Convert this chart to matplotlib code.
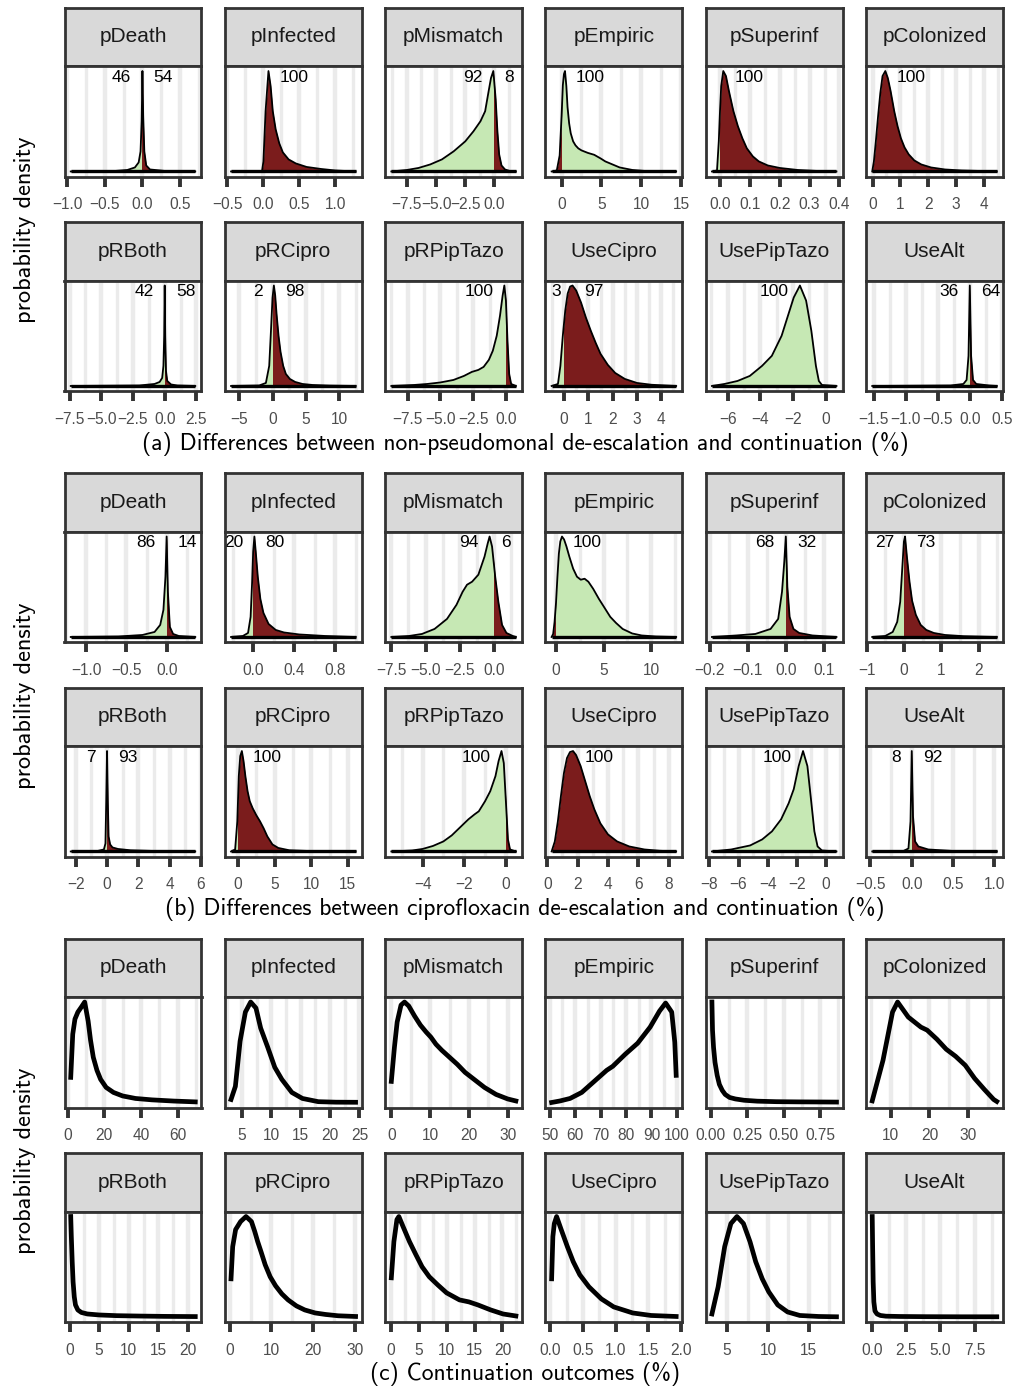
import matplotlib
matplotlib.use("Agg")
import matplotlib.pyplot as plt
from matplotlib.patches import Rectangle
import numpy as np

plt.rcParams['font.family'] = ['Liberation Sans', 'DejaVu Sans']

W, H = 1026, 1389

panel_names = ["pDeath", "pInfected", "pMismatch", "pEmpiric", "pSuperinf", "pColonized",
               "pRBoth", "pRCipro", "pRPipTazo", "UseCipro", "UsePipTazo", "UseAlt"]
higher_is_better = ["pEmpiric"]

captions = ["(a) Differences between non-pseudomonal de-escalation and continuation (%)",
            "(b) Differences between ciprofloxacin de-escalation and continuation (%)",
            "(c) Continuation outcomes (%)"]

# ---- (a) non-pseudomonal de-escalation minus continuation, density scaled to peak = 1
a_pDeath_x = [-0.95, -0.4, -0.2, -0.1, -0.05, -0.025, -0.01, 0.0, 0.01, 0.025, 0.05, 0.1, 0.3, 0.70]
a_pDeath_y = [0, 0.003, 0.015, 0.04, 0.09, 0.2, 0.5, 1.0, 0.55, 0.2, 0.06, 0.02, 0.005, 0]
a_pInfected_x = [-0.45, -0.02, 0.0, 0.03, 0.07, 0.1, 0.13, 0.17, 0.22, 0.27, 0.35, 0.45, 0.6, 0.8, 1.0, 1.28]
a_pInfected_y = [0, 0, 0.1, 0.6, 1.0, 0.85, 0.6, 0.42, 0.28, 0.19, 0.12, 0.08, 0.045, 0.025, 0.01, 0]
a_pMismatch_x = [-8.83, -7.5, -6.5, -5.5, -4.5, -3.5, -2.5, -1.8, -1.2, -0.8, -0.5, -0.3, -0.1, 0.1, 0.25, 0.4, 0.6, 0.9, 1.3, 1.83]
a_pMismatch_y = [0, 0.015, 0.035, 0.07, 0.12, 0.2, 0.3, 0.4, 0.5, 0.6, 0.8, 0.93, 1.0, 0.72, 0.4, 0.17, 0.06, 0.02, 0.005, 0]
a_pEmpiric_x = [-1.25, -0.6, -0.24, 0.0, 0.16, 0.3, 0.43, 0.6, 0.75, 0.95, 1.15, 1.45, 1.75, 2.1, 2.5, 3.3, 4.1, 4.9, 5.5, 6.1, 7.3, 8.9, 10.5, 12.1, 14.4]
a_pEmpiric_y = [0, 0.01, 0.16, 0.55, 0.86, 0.97, 1.0, 0.85, 0.64, 0.48, 0.38, 0.3, 0.26, 0.23, 0.21, 0.185, 0.166, 0.13, 0.1, 0.08, 0.04, 0.015, 0.005, 0.002, 0]
a_pSuperinf_x = [-0.027, -0.01, -0.004, 0.0, 0.004, 0.011, 0.02, 0.03, 0.045, 0.06, 0.075, 0.09, 0.11, 0.13, 0.16, 0.2, 0.26, 0.32, 0.39]
a_pSuperinf_y = [0, 0.01, 0.3, 0.6, 0.85, 1.0, 0.95, 0.8, 0.6, 0.45, 0.33, 0.23, 0.15, 0.1, 0.06, 0.035, 0.015, 0.006, 0]
a_pColonized_x = [-0.01, 0.05, 0.12, 0.2, 0.28, 0.36, 0.46, 0.55, 0.65, 0.78, 0.9, 1.02, 1.15, 1.3, 1.5, 1.75, 2.1, 2.6, 3.2, 4.0, 4.46]
a_pColonized_y = [0, 0.1, 0.3, 0.55, 0.78, 0.95, 1.0, 0.93, 0.8, 0.6, 0.45, 0.33, 0.24, 0.17, 0.11, 0.07, 0.04, 0.02, 0.01, 0.004, 0]
a_pRBoth_x = [-7.41, -2, -0.8, -0.4, -0.2, -0.1, -0.04, 0.0, 0.04, 0.1, 0.2, 0.5, 1.0, 2.41]
a_pRBoth_y = [0, 0.005, 0.02, 0.04, 0.08, 0.2, 0.5, 1.0, 0.5, 0.15, 0.05, 0.015, 0.005, 0]
a_pRCipro_x = [-6.24, -2, -1, -0.5, -0.2, 0.0, 0.2, 0.4, 0.6, 0.9, 1.2, 1.6, 2.0, 2.6, 3.4, 4.5, 6, 8.5, 12.48]
a_pRCipro_y = [0, 0.005, 0.03, 0.2, 0.6, 0.88, 1.0, 0.9, 0.72, 0.5, 0.34, 0.2, 0.12, 0.07, 0.04, 0.02, 0.01, 0.004, 0]
a_pRPipTazo_x = [-8.74, -7, -6, -5, -4, -3.2, -2.6, -2.1, -1.7, -1.3, -1.0, -0.7, -0.45, -0.25, -0.12, 0.0, 0.12, 0.25, 0.4, 0.76]
a_pRPipTazo_y = [0, 0.01, 0.02, 0.035, 0.06, 0.1, 0.14, 0.16, 0.19, 0.26, 0.35, 0.5, 0.7, 0.9, 1.0, 0.85, 0.45, 0.12, 0.02, 0]
a_UseCipro_x = [-0.51, -0.25, -0.15, -0.05, 0.05, 0.15, 0.25, 0.35, 0.5, 0.7, 0.9, 1.1, 1.3, 1.5, 1.8, 2.1, 2.5, 3.0, 3.6, 4.61]
a_UseCipro_y = [0, 0.02, 0.2, 0.5, 0.75, 0.92, 0.99, 1.0, 0.95, 0.83, 0.68, 0.55, 0.43, 0.32, 0.21, 0.13, 0.07, 0.03, 0.012, 0]
a_UsePipTazo_x = [-6.97, -6.2, -5.4, -4.65, -3.9, -3.3, -2.7, -2.35, -1.96, -1.58, -1.2, -0.88, -0.6, -0.42, -0.23, 0.66]
a_UsePipTazo_y = [0, 0.02, 0.05, 0.1, 0.2, 0.3, 0.5, 0.68, 0.88, 1.0, 0.85, 0.55, 0.2, 0.05, 0.01, 0]
a_UseAlt_x = [-1.52, -0.3, -0.1, -0.05, -0.02, 0.0, 0.02, 0.05, 0.1, 0.3, 0.42]
a_UseAlt_y = [0, 0.005, 0.02, 0.06, 0.3, 1.0, 0.3, 0.06, 0.02, 0.005, 0]

# ---- (b) ciprofloxacin de-escalation minus continuation
b_pDeath_x = [-1.19, -0.6, -0.3, -0.15, -0.08, -0.04, -0.015, 0.0, 0.015, 0.04, 0.08, 0.15, 0.355]
b_pDeath_y = [0, 0.005, 0.02, 0.05, 0.12, 0.27, 0.6, 1.0, 0.45, 0.1, 0.03, 0.01, 0]
b_pInfected_x = [-0.216, -0.1, -0.05, -0.025, -0.01, 0.0, 0.012, 0.025, 0.045, 0.07, 0.1, 0.15, 0.22, 0.3, 0.45, 0.7, 0.999]
b_pInfected_y = [0, 0.01, 0.04, 0.2, 0.55, 0.85, 1.0, 0.85, 0.6, 0.38, 0.24, 0.13, 0.07, 0.045, 0.025, 0.01, 0]
b_pMismatch_x = [-7.5, -6.2, -5.26, -4.34, -3.43, -2.74, -2.29, -1.97, -1.6, -1.14, -0.69, -0.46, -0.32, -0.14, 0.09, 0.32, 0.59, 0.91, 1.37, 1.6]
b_pMismatch_y = [0, 0.01, 0.03, 0.08, 0.18, 0.32, 0.45, 0.52, 0.55, 0.62, 0.8, 0.93, 1.0, 0.9, 0.6, 0.35, 0.12, 0.04, 0.01, 0]
b_pEmpiric_x = [-0.46, -0.3, -0.15, 0.0, 0.15, 0.3, 0.45, 0.63, 0.85, 1.1, 1.4, 1.8, 2.2, 2.6, 3.0, 3.4, 3.9, 4.5, 5.1, 5.7, 6.3, 7.0, 8.0, 9.0, 10.5, 12.62]
b_pEmpiric_y = [0, 0.03, 0.15, 0.34, 0.6, 0.83, 0.95, 1.0, 0.97, 0.9, 0.8, 0.68, 0.6, 0.57, 0.58, 0.55, 0.48, 0.38, 0.29, 0.2, 0.14, 0.08, 0.035, 0.015, 0.005, 0]
b_pSuperinf_x = [-0.194, -0.13, -0.08, -0.04, -0.02, -0.01, -0.004, 0.0, 0.004, 0.01, 0.02, 0.035, 0.07, 0.133]
b_pSuperinf_y = [0, 0.015, 0.03, 0.08, 0.18, 0.45, 0.75, 1.0, 0.5, 0.2, 0.08, 0.04, 0.015, 0]
b_pColonized_x = [-0.85, -0.5, -0.3, -0.18, -0.1, -0.05, 0.0, 0.03, 0.08, 0.15, 0.22, 0.32, 0.45, 0.6, 0.8, 1.1, 1.6, 2.49]
b_pColonized_y = [0, 0.01, 0.05, 0.15, 0.35, 0.65, 0.95, 1.0, 0.8, 0.55, 0.36, 0.22, 0.12, 0.07, 0.04, 0.02, 0.008, 0]
b_pRBoth_x = [-2.32, -0.6, -0.2, -0.1, -0.05, 0.0, 0.05, 0.1, 0.2, 0.35, 0.7, 1.5, 3, 5.64]
b_pRBoth_y = [0, 0.005, 0.02, 0.08, 0.5, 1.0, 0.5, 0.15, 0.07, 0.04, 0.025, 0.012, 0.005, 0]
b_pRCipro_x = [-0.96, -0.4, -0.1, 0.1, 0.3, 0.52, 0.75, 1.0, 1.3, 1.6, 2.0, 2.5, 3.0, 3.5, 4.0, 4.7, 5.5, 7, 10, 16.05]
b_pRCipro_y = [0, 0.02, 0.3, 0.75, 0.95, 1.0, 0.9, 0.75, 0.6, 0.5, 0.43, 0.36, 0.3, 0.23, 0.15, 0.07, 0.035, 0.012, 0.004, 0]
b_pRPipTazo_x = [-5.5, -4.5, -4.0, -3.5, -3.0, -2.6, -2.2, -1.8, -1.5, -1.3, -1.0, -0.75, -0.5, -0.35, -0.21, -0.1, 0.0, 0.1, 0.2, 0.48]
b_pRPipTazo_y = [0, 0.01, 0.025, 0.055, 0.1, 0.16, 0.24, 0.32, 0.37, 0.4, 0.5, 0.6, 0.75, 0.9, 1.0, 0.88, 0.5, 0.12, 0.02, 0]
b_UseCipro_x = [0.29, 0.5, 0.7, 0.9, 1.1, 1.3, 1.5, 1.7, 1.9, 2.2, 2.5, 2.8, 3.1, 3.5, 4.0, 4.6, 5.4, 6.4, 7.4, 8.49]
b_UseCipro_y = [0, 0.1, 0.3, 0.55, 0.78, 0.93, 0.99, 1.0, 0.96, 0.85, 0.7, 0.55, 0.42, 0.28, 0.17, 0.1, 0.05, 0.02, 0.007, 0]
b_UsePipTazo_x = [-7.83, -6.5, -5.2, -4.37, -3.7, -3.07, -2.55, -2.2, -1.86, -1.56, -1.26, -1.0, -0.78, -0.56, -0.26, 0.74]
b_UsePipTazo_y = [0, 0.02, 0.06, 0.12, 0.2, 0.32, 0.48, 0.62, 0.85, 1.0, 0.85, 0.5, 0.2, 0.05, 0.01, 0]
b_UseAlt_x = [-0.479, -0.1, -0.04, -0.015, 0.0, 0.015, 0.04, 0.08, 0.2, 0.5, 1.03]
b_UseAlt_y = [0, 0.005, 0.03, 0.3, 1.0, 0.35, 0.1, 0.05, 0.02, 0.005, 0]

# ---- (c) continuation outcomes
c_pDeath_x = [1.7, 2.8, 4, 5.6, 7.5, 9.3, 11.2, 12.5, 14, 16, 18, 21, 25, 30, 37, 46, 58, 69.6]
c_pDeath_y = [0.25, 0.68, 0.83, 0.9, 0.95, 1.0, 0.81, 0.62, 0.45, 0.32, 0.23, 0.15, 0.1, 0.065, 0.04, 0.026, 0.014, 0.006]
c_pInfected_x = [3.16, 3.9, 4.7, 5.6, 6.5, 7.4, 8.2, 9.4, 10.6, 11.8, 13.5, 15.3, 18, 21, 24.34]
c_pInfected_y = [0.03, 0.16, 0.61, 0.9, 1.0, 0.94, 0.74, 0.55, 0.35, 0.23, 0.1, 0.04, 0.008, 0.003, 0.002]
c_pMismatch_x = [0.0, 0.8, 1.5, 2.5, 3.4, 4.5, 6, 7.5, 9, 10.2, 11.5, 13, 15, 17, 19, 21, 24, 27, 30, 32.1]
c_pMismatch_y = [0.21, 0.55, 0.8, 0.97, 1.0, 0.96, 0.86, 0.77, 0.7, 0.65, 0.58, 0.52, 0.45, 0.38, 0.3, 0.24, 0.15, 0.08, 0.035, 0.015]
c_pEmpiric_x = [50.75, 54, 58, 62.6, 67.5, 72.4, 74.8, 79.7, 84.6, 89.5, 93.2, 95.6, 98.0, 99.2, 99.75]
c_pEmpiric_y = [0.0, 0.015, 0.04, 0.1, 0.21, 0.32, 0.36, 0.48, 0.59, 0.75, 0.91, 0.99, 0.9, 0.6, 0.27]
c_pSuperinf_x = [0.009, 0.013, 0.02, 0.03, 0.045, 0.06, 0.08, 0.1, 0.13, 0.17, 0.23, 0.32, 0.45, 0.6, 0.75, 0.863]
c_pSuperinf_y = [1.0, 0.72, 0.55, 0.4, 0.27, 0.18, 0.12, 0.08, 0.05, 0.035, 0.022, 0.013, 0.008, 0.006, 0.005, 0.004]
c_pColonized_x = [5.28, 8.05, 10.5, 11.8, 14.55, 17.8, 19.4, 21.9, 24.3, 26.7, 29.2, 31.6, 34.1, 36.5, 37.3]
c_pColonized_y = [0.016, 0.42, 0.9, 1.0, 0.85, 0.75, 0.72, 0.63, 0.53, 0.46, 0.37, 0.24, 0.13, 0.03, 0.01]
c_pRBoth_x = [0.2, 0.3, 0.45, 0.6, 0.8, 1.0, 1.4, 2, 3, 5, 8, 12, 16, 21.25]
c_pRBoth_y = [1.0, 0.8, 0.55, 0.35, 0.2, 0.12, 0.07, 0.045, 0.03, 0.02, 0.013, 0.009, 0.006, 0.004]
c_pRCipro_x = [0.3, 0.7, 1.4, 2.6, 3.9, 5.2, 6.0, 6.7, 7.5, 8.5, 9.7, 11, 12.5, 14, 16, 18, 20.5, 23, 26, 30.2]
c_pRCipro_y = [0.38, 0.7, 0.87, 0.95, 1.0, 0.95, 0.85, 0.75, 0.65, 0.52, 0.4, 0.31, 0.23, 0.17, 0.11, 0.07, 0.04, 0.025, 0.012, 0.005]
c_pRPipTazo_x = [0.1, 0.56, 1.1, 1.45, 2.2, 3.35, 4.5, 5.6, 6.9, 8.4, 10, 12.3, 14, 15.6, 17.9, 20.1, 22.4]
c_pRPipTazo_y = [0.39, 0.75, 0.97, 1.0, 0.9, 0.75, 0.62, 0.5, 0.4, 0.32, 0.24, 0.17, 0.15, 0.12, 0.07, 0.03, 0.01]
c_UseCipro_x = [0.019, 0.038, 0.06, 0.095, 0.16, 0.26, 0.35, 0.45, 0.59, 0.78, 0.97, 1.26, 1.54, 1.925]
c_UseCipro_y = [0.38, 0.8, 0.93, 1.0, 0.88, 0.7, 0.55, 0.42, 0.3, 0.18, 0.1, 0.04, 0.015, 0.005]
c_UsePipTazo_x = [3.14, 3.9, 4.7, 5.46, 6.2, 7.0, 7.8, 8.5, 9.3, 10.1, 11.2, 12.4, 13.9, 16.2, 18.39]
c_UsePipTazo_y = [0.03, 0.3, 0.7, 0.93, 1.0, 0.93, 0.75, 0.55, 0.38, 0.25, 0.12, 0.05, 0.015, 0.005, 0.002]
c_UseAlt_x = [0.0, 0.03, 0.07, 0.12, 0.2, 0.35, 0.6, 1.0, 2, 4, 6.5, 9.13]
c_UseAlt_y = [1.0, 0.7, 0.35, 0.15, 0.06, 0.03, 0.015, 0.008, 0.005, 0.003, 0.002, 0.002]

# percentage of mass below / above zero (None = not shown)
a_pct_below = [46, None, 92, None, None, None, 42, 2, 100, 3, 100, 36]
a_pct_above = [54, 100, 8, 100, 100, 100, 58, 98, None, 97, None, 64]
b_pct_below = [86, 20, 94, None, 68, 27, 7, None, 100, None, 100, 8]
b_pct_above = [14, 80, 6, 100, 32, 73, 93, 100, None, 100, None, 92]

a_ticks = [["-1.0", "-0.5", "0.0", "0.5"], ["-0.5", "0.0", "0.5", "1.0"],
           ["-7.5", "-5.0", "-2.5", "0.0"], ["0", "5", "10", "15"],
           ["0.0", "0.1", "0.2", "0.3", "0.4"], ["0", "1", "2", "3", "4"],
           ["-7.5", "-5.0", "-2.5", "0.0", "2.5"], ["-5", "0", "5", "10"],
           ["-7.5", "-5.0", "-2.5", "0.0"], ["0", "1", "2", "3", "4"],
           ["-6", "-4", "-2", "0"], ["-1.5", "-1.0", "-0.5", "0.0", "0.5"]]
b_ticks = [["-1.0", "-0.5", "0.0"], ["0.0", "0.4", "0.8"],
           ["-7.5", "-5.0", "-2.5", "0.0"], ["0", "5", "10"],
           ["-0.2", "-0.1", "0.0", "0.1"], ["-1", "0", "1", "2"],
           ["-2", "0", "2", "4", "6"], ["0", "5", "10", "15"],
           ["-4", "-2", "0"], ["0", "2", "4", "6", "8"],
           ["-8", "-6", "-4", "-2", "0"], ["-0.5", "0.0", "0.5", "1.0"]]
c_ticks = [["0", "20", "40", "60"], ["5", "10", "15", "20", "25"],
           ["0", "10", "20", "30"], ["50", "60", "70", "80", "90", "100"],
           ["0.00", "0.25", "0.50", "0.75"], ["10", "20", "30"],
           ["0", "5", "10", "15", "20"], ["0", "10", "20", "30"],
           ["0", "5", "10", "15", "20"], ["0.0", "0.5", "1.0", "1.5", "2.0"],
           ["5", "10", "15"], ["0.0", "2.5", "5.0", "7.5"]]

a_curves = [(a_pDeath_x, a_pDeath_y), (a_pInfected_x, a_pInfected_y), (a_pMismatch_x, a_pMismatch_y),
            (a_pEmpiric_x, a_pEmpiric_y), (a_pSuperinf_x, a_pSuperinf_y), (a_pColonized_x, a_pColonized_y),
            (a_pRBoth_x, a_pRBoth_y), (a_pRCipro_x, a_pRCipro_y), (a_pRPipTazo_x, a_pRPipTazo_y),
            (a_UseCipro_x, a_UseCipro_y), (a_UsePipTazo_x, a_UsePipTazo_y), (a_UseAlt_x, a_UseAlt_y)]
b_curves = [(b_pDeath_x, b_pDeath_y), (b_pInfected_x, b_pInfected_y), (b_pMismatch_x, b_pMismatch_y),
            (b_pEmpiric_x, b_pEmpiric_y), (b_pSuperinf_x, b_pSuperinf_y), (b_pColonized_x, b_pColonized_y),
            (b_pRBoth_x, b_pRBoth_y), (b_pRCipro_x, b_pRCipro_y), (b_pRPipTazo_x, b_pRPipTazo_y),
            (b_UseCipro_x, b_UseCipro_y), (b_UsePipTazo_x, b_UsePipTazo_y), (b_UseAlt_x, b_UseAlt_y)]
c_curves = [(c_pDeath_x, c_pDeath_y), (c_pInfected_x, c_pInfected_y), (c_pMismatch_x, c_pMismatch_y),
            (c_pEmpiric_x, c_pEmpiric_y), (c_pSuperinf_x, c_pSuperinf_y), (c_pColonized_x, c_pColonized_y),
            (c_pRBoth_x, c_pRBoth_y), (c_pRCipro_x, c_pRCipro_y), (c_pRPipTazo_x, c_pRPipTazo_y),
            (c_UseCipro_x, c_UseCipro_y), (c_UsePipTazo_x, c_UsePipTazo_y), (c_UseAlt_x, c_UseAlt_y)]

GOOD = '#c6e8b4'
BAD = '#7b1c1c'
EDGE = '#333333'


def px_axes(fig, left, top, width, height):
    return fig.add_axes([left / W, 1 - (top + height) / H, width / W, height / H])


def draw_panel(fig, left, top, name, curve, ticks, filled, below=None, above=None):
    x = np.array(curve[0], dtype=float)
    y = np.array(curve[1], dtype=float)

    # strip
    sax = px_axes(fig, left, top, 137, 58.5)
    sax.set_facecolor('#d9d9d9')
    sax.set_xticks([])
    sax.set_yticks([])
    for sp in sax.spines.values():
        sp.set_color(EDGE)
        sp.set_linewidth(2)
    sax.text(0.5, 0.5, name, ha='center', va='center', fontsize=15,
             color='#1a1a1a', transform=sax.transAxes)

    ax = px_axes(fig, left, top + 58.5, 137, 110.5)
    lo, hi = x.min(), x.max()
    pad = 0.05 * (hi - lo)
    ax.set_xlim(lo - pad, hi + pad)
    ax.set_ylim(-0.05, 1.05)

    tick_vals = [float(t) for t in ticks]
    step = tick_vals[1] - tick_vals[0]
    minors = np.arange(tick_vals[0] - step * 5.5, tick_vals[-1] + step * 5, step)
    for m in minors:
        if lo - pad < m < hi + pad:
            ax.axvline(m, color='#ebebeb', lw=2.4, zorder=0.5)
    for t in tick_vals:
        ax.axvline(t, color='#ebebeb', lw=3.2, zorder=0.5)

    if filled:
        neg_col, pos_col = (BAD, GOOD) if name in higher_is_better else (GOOD, BAD)
        if lo < 0:
            f = ax.fill_between(x, y, 0, color=neg_col, lw=0, zorder=1)
            f.set_clip_path(Rectangle((lo - 1, -1), -(lo - 1), 3, transform=ax.transData))
        if hi > 0:
            f = ax.fill_between(x, y, 0, color=pos_col, lw=0, zorder=1)
            f.set_clip_path(Rectangle((0, -1), hi + 1, 3, transform=ax.transData))
        ax.plot([lo, hi], [0, 0], color='black', lw=2.4, solid_capstyle='butt', zorder=3)
        ax.plot(x, y, color='black', lw=1.3, zorder=3)
        peak = x[np.argmax(y)]
        if below is not None:
            ax.annotate(str(below), xy=(peak, 0.9), xycoords=('data', 'axes fraction'),
                        xytext=(-8, 0), textcoords='offset points', ha='right', va='center',
                        fontsize=12.5, color='black')
        if above is not None:
            ax.annotate(str(above), xy=(peak, 0.9), xycoords=('data', 'axes fraction'),
                        xytext=(8, 0), textcoords='offset points', ha='left', va='center',
                        fontsize=12.5, color='black')
    else:
        ax.plot(x, y, color='black', lw=3.4, solid_joinstyle='round', zorder=3)

    ax.set_xticks(tick_vals)
    ax.set_xticklabels([t.replace('-', '\u2212') for t in ticks])
    ax.set_yticks([])
    ax.tick_params(axis='x', length=7, width=2.8, color=EDGE, pad=8,
                   labelsize=11.2, labelcolor='#4d4d4d')
    for sp in ax.spines.values():
        sp.set_color(EDGE)
        sp.set_linewidth(2)
        sp.set_zorder(4)
    return ax


fig = plt.figure(figsize=(W / 100, H / 100), dpi=100)

sections = [(a_curves, a_ticks, True, a_pct_below, a_pct_above),
            (b_curves, b_ticks, True, b_pct_below, b_pct_above),
            (c_curves, c_ticks, False, None, None)]

for s, (curves, ticks, filled, below, above) in enumerate(sections):
    for i, name in enumerate(panel_names):
        r, c = divmod(i, 6)
        left = 64.5 + 160.3 * c
        top = 7.5 + 465.5 * s + 214.5 * r
        draw_panel(fig, left, top, name, curves[i], ticks[i], filled,
                   below[i] if below else None, above[i] if above else None)
    fig.text(25 / W, 1 - (230 + 465.5 * s) / H, "probability density", rotation=90,
             ha='center', va='center', fontsize=17.5, family='cmss10')
    fig.text(525 / W, 1 - (444 + 465 * s) / H, captions[s], ha='center', va='center',
             fontsize=17, family='cmss10')

fig.savefig('out.png', dpi=100, facecolor='white')
